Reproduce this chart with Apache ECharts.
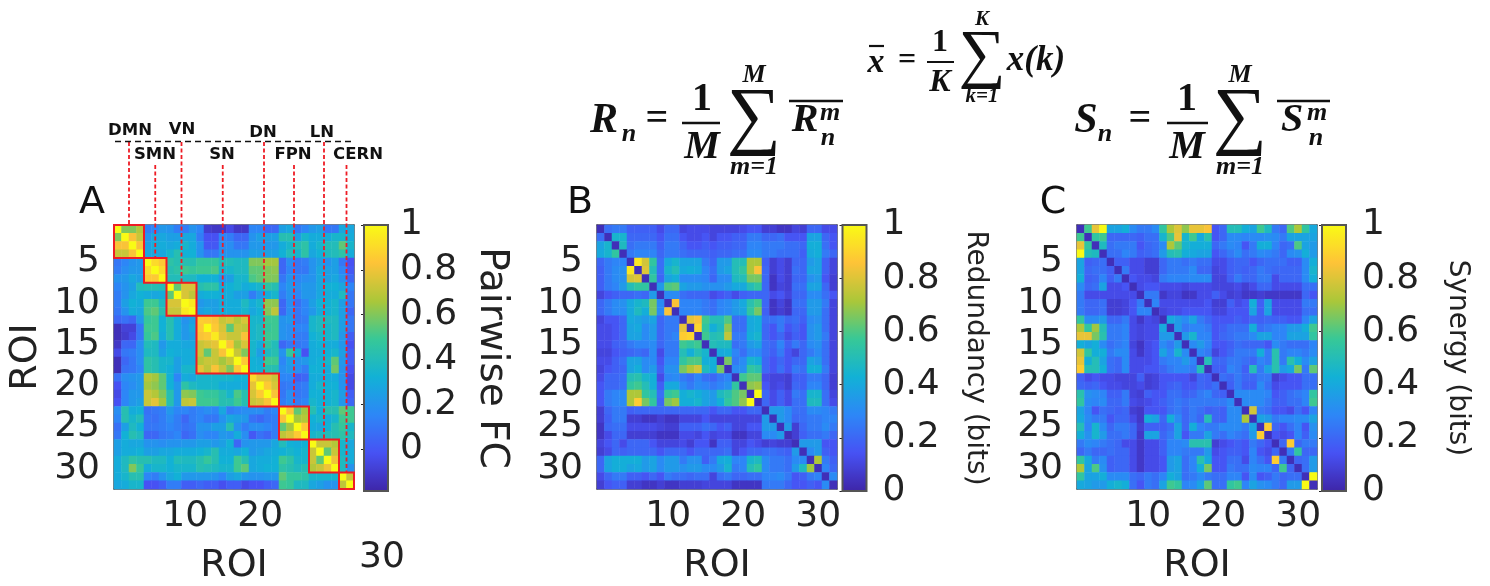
<!DOCTYPE html>
<html><head><meta charset="utf-8">
<style>html,body{margin:0;padding:0;background:#fff}#c{width:1490px;height:586px}</style>
<script src="https://cdn.jsdelivr.net/npm/echarts@6/dist/echarts.min.js"></script>
</head><body><div id="c"></div>
<script>
// ROI numbers and tick labels
const roiLabels = Array.from({length:32},(_, i)=>String(i+1));
const colorbarTicksFC = [0,0.2,0.4,0.6,0.8,1];
const colorbarTicksBits = [0,0.2,0.4,0.6,0.8,1];
// network blocks: label, first ROI, last ROI
const networkNames = ['DMN','SMN','VN','SN','DN','FPN','LN','CERN'];
const networkFirst = [1,5,8,12,19,23,27,31];
const networkLast  = [4,7,11,18,22,26,30,32];
// all matrix values are in hundredths
const pairwiseFC = [
[100,60,60,68, 12,15,22, 20,12,12,20, 15,-10,-12,-12,-5,-12,-12, 15,15,5,5, 25,28,10,15, 22,25,10,10, 28,28],
[60,100,82,72, 20,28,28, 25,25,28,28, 12,-2,-2,15,12,5,5, 20,25,25,25, 42,42,25,35, 30,30,30,35, 35,30],
[82,82,100,82, 25,30,30, 28,30,35,30, 20,0,0,18,18,10,10, 22,22,22,22, 30,35,40,45, 30,35,40,40, 55,35],
[72,72,82,100, 28,28,28, 35,42,32,32, 20,10,10,20,20,20,20, 25,25,25,25, 32,40,35,45, 28,32,38,40, 45,30],
[10,15,20,22, 100,90,85, 45,42,42,42, 48,48,48,40,40,38,38, 60,60,65,65, 5,18,10,12, 20,25,20,25, 10,-2],
[12,18,22,22, 90,100,90, 42,45,50,48, 50,50,52,35,35,38,38, 55,55,60,62, 5,15,10,10, 20,28,25,25, 15,0],
[20,22,28,25, 85,85,100, 40,40,38,38, 32,32,32,22,25,35,35, 52,55,60,60, 10,20,15,18, 20,28,25,28, 20,5],
[15,20,25,40, 42,42,40, 100,55,75,75, 42,45,45,30,32,35,30, 32,35,45,42, 15,22,18,22, 22,28,32,32, 28,15],
[12,20,28,32, 30,28,30, 55,100,75,70, 30,32,32,30,30,25,25, 12,22,30,35, 12,20,15,22, 22,28,30,30, 38,10],
[12,25,32,30, 50,50,38, 75,75,100,95, 22,25,25,30,30,30,38, 30,35,62,62, 5,18,8,15, 25,32,32,35, 25,10],
[10,20,30,28, 52,55,42, 72,72,95,100, 25,28,25,30,30,30,35, 28,32,60,70, 5,18,10,15, 22,30,32,35, 25,5],
[5,8,5,22, 48,50,32, 42,30,20,25, 86,85,82,72,75,68,75, 35,35,50,50, 20,22,10,12, 35,38,38,38, 25,10],
[-15,-8,-8,10, 50,50,32, 42,30,22,28, 85,100,85,75,55,72,70, 35,38,48,50, 20,18,15,15, 35,38,35,38, 25,10],
[-15,-10,-5,10, 48,52,30, 42,30,22,25, 82,85,95,78,72,72,82, 35,38,50,50, 20,18,12,12, 32,35,35,38, 22,2],
[-12,5,5,18, 40,38,22, 30,30,28,28, 72,75,78,100,82,65,75, 35,30,45,40, 5,10,10,12, 30,32,30,30, 22,-2],
[-5,10,12,18, 38,38,25, 32,30,30,30, 72,55,72,82,100,72,60, 35,25,38,42, 20,48,30,-2, 30,30,32,35, 25,2],
[-15,5,10,18, 45,42,35, 35,25,30,30, 68,72,72,65,72,100,85, 32,30,50,50, 15,25,20,22, 30,32,35,55, 22,2],
[-15,8,10,15, 45,42,35, 32,25,35,35, 78,70,82,72,60,85,100, 32,32,42,42, 18,22,18,12, 32,32,30,58, 20,-2],
[8,18,20,22, 68,65,55, 32,15,30,28, 35,35,35,35,35,32,32, 90,78,78,72, 15,15,2,5, 30,30,30,30, 20,-5],
[-2,15,18,22, 65,62,55, 32,22,45,38, 35,35,35,30,30,30,30, 78,100,85,75, 10,12,10,12, 30,35,32,32, 20,-5],
[-5,15,22,22, 72,68,60, 42,22,62,60, 50,48,48,42,35,52,42, 75,85,100,82, 10,18,10,12, 32,32,32,35, 25,2],
[-2,15,22,25, 72,78,65, 42,22,70,72, 50,50,50,42,42,50,42, 72,75,82,100, 12,18,12,15, 35,32,32,35, 22,5],
[18,42,30,32, 8,10,12, 22,15,15,12, 15,18,15,28,12,15,18, 18,18,12,15, 100,82,55,65, 42,32,42,42, 55,50],
[15,42,35,40, 10,8,12, 18,12,5,12, 15,10,10,20,28,25,22, 8,5,10,12, 82,100,65,68, 32,35,30,35, 50,50],
[8,25,38,32, 10,10,12, 15,12,8,10, 20,20,25,25,42,20,12, 18,18,15,12, 55,65,100,85, 30,28,32,42, 48,35],
[10,32,42,38, 5,5,10, 12,15,5,8, 18,15,15,22,20,30,18, 0,8,5,12, 70,75,85,100, 35,38,40,42, 45,38],
[25,30,28,28, 20,20,18, 20,20,22,22, 25,25,22,25,32,5,20, 22,22,22,28, 40,32,30,32, 100,72,72,68, 35,28],
[25,30,30,32, 25,25,28, 28,30,30,30, 32,35,42,30,30,28,32, 22,25,28,30, 32,35,32,35, 72,100,55,72, 35,30],
[30,38,45,42, 42,38,38, 32,40,38,38, 42,48,42,32,32,50,42, 28,30,30,32, 50,45,35,35, 72,55,100,80, 38,30],
[30,38,60,48, 30,35,35, 32,35,35,35, 42,40,38,35,35,50,55, 28,30,32,32, 45,42,38,42, 68,72,80,100, 38,20],
[30,35,42,42, 15,12,20, 28,32,22,22, 22,22,20,15,25,28,22, 20,20,22,22, 55,48,48,45, 35,35,35,35, 100,72],
[28,30,35,35, -2,-2,2, 12,12,2,2, 5,2,2,-3,2,2,-5, -2,-2,2,5, 50,48,38,38, 28,25,20,20, 70,100]
];
const redundancy = [
[3,22,25,25, 18,18,18,18, 12, 20,20, 10,12,12, 12,10, 10,10, 10,12, 15,15, 8,8,5,5, 10,8, 20,20, 12,12],
[22,3,45,45, 20,20,20,20, 15, 22,22, 15,12,12, 15,10, 15,15, 18,18, 25,25, 20,20,22,15, 15,15, 38,38, 20,15],
[38,45,3,48, 22,25,25,25, 18, 25,25, 20,15,15, 18,15, 18,18, 20,20, 28,28, 25,25,25,22, 22,20, 42,42, 22,15],
[40,45,55,3, 25,28,28,28, 20, 25,25, 22,20,20, 20,18, 20,20, 22,22, 30,30, 25,25,22,22, 22,18, 40,42, 25,20],
[20,25,28,28, 3,95,78,55, 22, 40,45, 38,38,38, 25,20, 35,35, 50,50, 72,72, 18,8,12,8, 20,20, 35,38, 18,10],
[18,25,30,32, 95,3,80,50, 22, 45,50, 40,42,40, 28,22, 35,38, 50,55, 72,85, 20,8,12,8, 22,20, 38,38, 18,10],
[18,25,30,32, 78,80,3,55, 20, 38,42, 30,30,30, 28,20, 30,30, 48,50, 65,65, 20,5,12,8, 20,20, 32,35, 15,8],
[18,25,28,35, 50,55,55,3, 35, 60,62, 38,35,35, 32,32, 32,35, 40,40, 50,55, 20,5,10,8, 22,22, 38,38, 20,8],
[10,15,18,20, 20,22,20,35, 3, 30,30, 22,20,20, 20,12, 15,18, 12,18, 20,20, 20,12,15,10, 20,20, 30,30, 22,15],
[20,25,30,32, 40,45,48,65, 30, 3,85, 28,28,28, 25,22, 28,30, 35,40, 52,58, 20,5,10,5, 22,22, 35,35, 25,10],
[20,25,30,30, 40,48,42,65, 30, 85,3, 28,28,28, 25,22, 28,30, 35,38, 55,65, 18,5,8,5, 20,20, 35,35, 22,10],
[10,15,15,20, 40,38,35,38, 20, 25,25, 3,82,85, 58,50, 50,60, 22,22, 40,42, 22,22,25,20, 22,18, 30,32, 22,10],
[12,12,15,20, 38,40,30,35, 20, 25,25, 82,3,90, 55,42, 48,68, 22,22, 40,42, 20,15,25,15, 20,15, 32,35, 22,10],
[12,12,15,20, 38,38,30,35, 20, 25,28, 88,90,3, 58,50, 52,75, 25,25, 42,45, 20,15,20,12, 18,15, 32,35, 25,10],
[12,12,18,20, 25,28,28,30, 20, 25,25, 58,55,58, 3,50, 48,48, 22,25, 35,38, 22,20,28,18, 25,20, 30,32, 22,10],
[10,10,15,18, 20,22,20,30, 12, 25,25, 50,42,50, 45,3, 40,42, 28,22, 30,30, 22,18,25,15, 10,20, 25,30, 22,10],
[12,12,18,22, 38,38,30,30, 15, 28,28, 55,60,60, 42,42, 3,65, 25,30, 45,42, 20,15,20,15, 20,20, 38,35, 22,10],
[10,15,18,20, 38,42,30,35, 18, 32,32, 65,72,78, 48,42, 65,3, 30,32, 55,52, 20,15,22,15, 25,22, 42,42, 25,10],
[12,20,20,22, 50,52,45,42, 12, 28,30, 25,22,28, 22,20, 25,28, 3,58, 62,62, 12,10,10,8, 18,18, 25,25, 20,8],
[15,20,20,22, 55,58,50,42, 18, 40,40, 30,25,30, 28,25, 28,32, 55,3, 68,70, 15,10,12,8, 20,18, 28,28, 20,8],
[15,25,28,30, 72,72,55,50, 22, 55,58, 42,45,42, 38,35, 48,52, 60,65, 3,100, 20,12,18,12, 25,22, 45,45, 22,10],
[15,25,28,30, 72,88,65,55, 20, 65,70, 42,42,45, 38,35, 42,55, 60,68, 100,3, 20,12,18,12, 22,22, 48,48, 22,12],
[8,20,25,25, 18,20,20,20, 20, 20,20, 20,20,20, 20,15, 20,20, 15,15, 20,20, 3,35,35,30, 22,22, 30,30, 28,25],
[8,18,25,25, 8,8,5,5, 8, 5,5, 10,10,10, 15,10, 10,10, 10,10, 10,10, 35,3,35,30, 20,22, 25,25, 28,28],
[5,20,22,22, 12,12,12,12, 10, 8,8, 18,18,18, 22,20, 15,18, 10,10, 15,15, 35,35,3,35, 8,20, 25,25, 30,25],
[5,12,20,20, 8,8,8,8, 5, 5,5, 12,12,10, 15,10, 12,12, 5,5, 10,10, 30,30,35,3, 8,18, 22,22, 25,20],
[10,15,20,12, 20,20,20,15, 10, 10,10, 12,8,15, 15,5, 18,18, 10,10, 15,12, 8,10,8,8, 3,35, 35,35, 15,15],
[8,12,20,18, 20,20,20,20, 15, 20,20, 20,15,20, 20,20, 20,22, 10,15, 20,20, 22,22,20,18, 35,3, 30,35, 18,15],
[20,38,42,42, 42,42,35,38, 30, 35,35, 25,32,32, 18,25, 40,42, 28,28, 45,48, 30,25,25,22, 30,30, 3,72, 25,18],
[20,38,42,42, 38,40,35,38, 30, 35,35, 32,35,35, 30,30, 35,45, 25,28, 50,55, 30,25,25,22, 35,48, 70,3, 28,20],
[12,20,25,25, 18,18,15,20, 15, 25,22, 22,20,22, 22,10, 22,25, 20,20, 22,22, 28,28,30,25, 15,18, 25,28, 3,30],
[8,15,18,18, 8,8,5,5, 8, 5,5, 8,8,8, 10,10, 10,10, 5,5, 5,5, 25,25,25,20, 15,15, 18,15, 30,3]
];
const synergy = [
[3,58,82,100, 38,38,42,30,25,25,30, 55,72,80,68,82,82,85, 15,20, 50,50, 42,38, 58,48, 25,20, 60,72, 55,40],
[58,3,55,58, 20,20,20,20,18,22,22, 45,60,82,45,58,40,52, 15,20, 30,30, 28,30, 30,32, 30,25, 38,38, 38,38],
[82,55,3,48, 22,25,25,25,15,20,22, 30,72,62,45,42,42,42, 20,25, 30,28, 15,25, 42,42, 28,20, 22,60, 38,35],
[100,50,48,3, 22,22,28,25,18,20,22, 35,50,52,42,40,38,38, 15,20, 25,30, 22,25, 30,28, 25,20, 30,32, 42,35],
[38,18,20,22, 3,18,18,12,12,8,8, 20,25,25,22,25,22,22, 12,12, 18,20, 20,15, 20,22, 22,22, 18,18, 30,42],
[38,20,22,22, 18,3,25,12,12,8,8, 20,25,25,25,30,20,20, 10,12, 18,20, 18,20, 25,22, 20,20, 20,20, 30,45],
[42,18,20,28, 18,25,3,15,12,12,10, 25,28,28,28,30,30,30, 10,10, 18,25, 20,20, 25,25, 12,20, 20,20, 30,42],
[30,20,22,38, 12,12,15,3,12,15,15, 12,12,12,10,12,12,12, 10,10, 10,12, 8,12, 20,20, 12,12, 12,12, 22,22],
[25,12,12,12, 12,12,12,12,3,25,25, 6,10,10,5,6,12,12, 18,12, 8,10, 6,6, 8,6, 6,6, 6,6, 20,15],
[25,20,20,22, 8,8,10,15,25,3,28, 12,12,12,12,12,12,15, 8,8, 18,12, 15,42, 18,38, 12,12, 12,12, 25,25],
[25,20,20,22, 8,8,10,15,28,28,3, 10,12,12,15,15,15,15, 10,10, 15,15, 15,38, 18,38, 12,12, 12,12, 22,22],
[55,30,30,35, 20,20,25,12,6,12,10, 3,40,35,30,38,25,20, 15,15, 15,18, 15,20, 18,20, 18,18, 15,15, 28,38],
[72,55,70,50, 25,25,28,12,10,12,12, 40,3,35,25,28,28,25, 15,18, 22,22, 22,42, 22,25, 28,28, 35,35, 42,58],
[82,82,65,52, 25,25,28,12,10,12,12, 35,35,3,35,45,28,28, 15,20, 22,25, 25,30, 38,38, 28,28, 38,38, 38,55],
[42,38,42,30, 22,25,28,10,5,12,15, 30,25,35,3,30,35,28, 15,15, 18,22, 20,20, 20,15, 30,25, 22,22, 22,28],
[78,55,42,42, 25,30,30,12,6,12,15, 38,28,45,30,3,28,25, 10,15, 20,25, 25,25, 42,25, 52,25, 28,28, 25,30],
[82,42,50,38, 22,20,30,12,12,12,15, 25,28,28,35,28,3,50, 20,20, 25,25, 22,20, 28,25, 52,25, 52,42, 30,38],
[88,50,50,42, 22,20,30,12,12,15,15, 20,25,28,28,25,50,3, 18,18, 28,25, 18,50, 25,38, 52,35, 40,65, 25,62],
[18,12,15,12, 12,10,10,10,18,8,10, 15,15,15,15,10,20,18, 3,22, 20,25, 20,20, 25,25, 8,12, 15,15, 22,22],
[20,18,20,15, 12,12,10,10,12,8,10, 15,18,20,15,15,20,18, 22,3, 18,25, 18,18, 30,22, 12,15, 15,15, 22,22],
[52,32,30,28, 18,18,25,10,8,18,15, 15,22,22,18,20,25,28, 20,18, 3,30, 30,30, 30,28, 15,18, 22,25, 28,55],
[55,30,28,30, 20,20,25,12,10,12,15, 18,22,25,22,25,25,25, 25,25, 30,3, 30,30, 30,25, 18,18, 22,22, 28,58],
[38,28,15,22, 20,18,20,8,6,15,15, 15,22,25,20,25,22,18, 20,18, 30,30, 3,78, 25,22, 15,15, 12,22, 15,28],
[40,30,25,25, 15,20,20,12,6,42,38, 20,42,30,20,25,20,50, 20,18, 30,30, 72,3, 38,35, 25,28, 28,30, 30,38],
[50,28,45,30, 20,25,25,20,8,18,18, 18,22,38,20,42,28,25, 25,30, 30,30, 25,38, 3,88, 20,15, 22,28, 15,32],
[42,32,45,35, 22,22,25,20,6,38,38, 20,25,38,15,25,25,38, 25,22, 28,25, 22,35, 88,3, 15,12, 15,28, 18,30],
[25,30,28,25, 22,20,12,12,6,12,12, 18,28,28,30,52,52,52, 8,12, 15,18, 15,25, 20,15, 3,20, 88,20, 25,25],
[20,25,20,20, 22,20,20,12,6,12,12, 18,28,28,25,25,25,35, 12,15, 18,18, 15,28, 15,12, 20,3, 25,55, 20,20],
[55,40,25,30, 18,20,20,12,6,12,12, 15,35,38,22,28,52,40, 15,15, 22,22, 12,28, 22,15, 88,25, 3,20, 22,35],
[72,38,60,32, 18,20,20,12,6,12,12, 15,35,38,22,28,42,65, 15,15, 25,22, 22,30, 28,28, 20,58, 20,3, 22,35],
[55,38,38,42, 30,30,30,22,20,25,22, 28,42,38,22,25,30,25, 22,22, 28,28, 15,30, 15,18, 25,20, 22,22, 3,100],
[40,38,35,35, 42,45,42,22,15,25,22, 38,58,55,28,30,38,62, 22,22, 55,58, 28,38, 32,30, 25,20, 35,35, 100,3]
];
const colorbarMinFC = -0.1875, colorbarMaxFC = 1, colorbarMinBits = 0, colorbarMaxBits = 1;

const parula = ['#3e26a8','#4752f4','#2d87f7','#12b1d6','#37c897','#abc739','#fec338','#f9fb15'];
const FONT = 'DejaVu Sans', LINE = '#555';
const panels = [
 {m:pairwiseFC, left:114, cb:364, min:colorbarMinFC, max:colorbarMaxFC, ticks:colorbarTicksFC, name:'Pairwise FC', nameSize:39, nameGap:84, cbMargin:12, xTick:[10,20]},
 {m:redundancy, left:597, cb:842.5, min:colorbarMinBits, max:colorbarMaxBits, ticks:colorbarTicksBits, name:'Redundancy (bits)', nameSize:28, nameGap:95, cbMargin:16, xTick:[10,20,30]},
 {m:synergy, left:1077, cb:1322, min:colorbarMinBits, max:colorbarMaxBits, ticks:colorbarTicksBits, name:'Synergy (bits)', nameSize:28, nameGap:97, cbMargin:16, xTick:[10,20,30]}
];
const TOP=225, H=266, W=240, CBW=24, TICK_SIZE=36, NAME_SIZE=38;
const grid=[], xAxis=[], yAxis=[], series=[], visualMap=[], graphic=[];
const every = n => (i)=> (i+1)%n===0;
panels.forEach((p,k)=>{
  const g=k*2;
  grid.push({left:p.left,top:TOP,width:W,height:H});
  grid.push({left:p.cb,top:TOP,width:CBW,height:H});
  const line={show:true,lineStyle:{color:LINE,width:1.5}};
  const tick={show:true,inside:true,length:3,alignWithLabel:true,lineStyle:{color:'#222',width:1.5}};
  const xTicksFn=(i,v)=>p.xTick.includes(+v);
  const xb=xAxis.length;
  xAxis.push({gridIndex:g,type:'category',data:roiLabels,position:'bottom',axisLine:line,
    axisTick:{...tick,interval:every(10)},
    axisLabel:{interval:xTicksFn,fontSize:TICK_SIZE,fontFamily:FONT,color:'#222',margin:10},
    name:'ROI',nameLocation:'middle',nameGap:58,nameTextStyle:{fontSize:NAME_SIZE,fontFamily:FONT,color:'#222'},splitLine:{show:false}});
  xAxis.push({gridIndex:g,type:'category',data:roiLabels,position:'top',axisLine:line,
    axisTick:{...tick,interval:every(10)},axisLabel:{show:false},splitLine:{show:false}});
  const yb=yAxis.length;
  yAxis.push({gridIndex:g,type:'category',data:roiLabels,inverse:true,position:'left',axisLine:line,
    axisTick:{...tick,interval:every(5)},
    axisLabel:{interval:every(5),fontSize:TICK_SIZE,fontFamily:FONT,color:'#222',margin:14},
    ...(k===0?{name:'ROI',nameLocation:'middle',nameGap:69,nameRotate:90,nameTextStyle:{fontSize:NAME_SIZE,fontFamily:FONT,color:'#222'}}:{}),splitLine:{show:false}});
  yAxis.push({gridIndex:g,type:'category',data:roiLabels,inverse:true,position:'right',axisLine:line,
    axisTick:{...tick,interval:every(5)},axisLabel:{show:false},splitLine:{show:false}});
  // colorbar axes
  xAxis.push({gridIndex:g+1,type:'value',show:false,min:0,max:1});
  yAxis.push({gridIndex:g+1,type:'value',position:'right',min:p.min,max:p.max,
    axisLine:line,splitLine:{show:false},
    axisTick:{show:true,inside:true,length:3,customValues:p.ticks,lineStyle:{color:'#222'}},
    axisLabel:{customValues:p.ticks,fontSize:TICK_SIZE,fontFamily:FONT,color:'#222',margin:p.cbMargin},
    name:p.name,nameLocation:'middle',nameRotate:-90,nameGap:p.nameGap,nameTextStyle:{fontSize:p.nameSize,fontFamily:FONT,color:'#222'}});
  const data=[];
  p.m.forEach((row,r)=>row.forEach((v,c)=>data.push([c,r,v/100])));
  series.push({type:'heatmap',xAxisIndex:xb,yAxisIndex:yb,data,silent:true,progressive:0,animation:false,z:2});
  visualMap.push({type:'continuous',seriesIndex:series.length-1,min:p.min,max:p.max,calculable:false,
    left:p.cb,top:TOP,itemWidth:CBW,itemHeight:H,padding:0,text:['',''],hoverLink:false,inRange:{color:parula},z:1});
  graphic.push({type:'rect',shape:{x:p.cb,y:TOP,width:CBW,height:H},style:{fill:'none',stroke:LINE,lineWidth:2},z:20});
  if(k===0){
    const netData=networkNames.map((n,i)=>[networkFirst[i]-1,networkLast[i]-1,i]);
    series.push({type:'custom',xAxisIndex:xb,yAxisIndex:yb,data:netData,clip:false,silent:true,z:5,animation:false,
      encode:{x:0,y:1},
      renderItem(params,api){
        const a=api.value(0), b=api.value(1), idx=api.value(2);
        const c0=api.coord([a,a]), c1=api.coord([b,b]), s=api.size([1,1]);
        const x0=c0[0]-s[0]/2, y0=c0[1]-s[1]/2, x1=c1[0]+s[0]/2, y1=c1[1]+s[1]/2;
        const mid=(x0+x1)/2, start=idx%2===0?142:165;
        return {type:'group',children:[
          {type:'rect',shape:{x:x0,y:y0,width:x1-x0,height:y1-y0},style:{fill:'none',stroke:'#ee1c25',lineWidth:2}},
          {type:'line',shape:{x1:mid,y1:start,x2:mid,y2:y0},style:{stroke:'#ee1c25',lineWidth:1.8,lineDash:[4,2.5]}}
        ]};
      }});
  }
});
function t(text,x,y,font,extra){graphic.push({type:'text',x,y,z:30,silent:true,style:Object.assign({text,x:0,y:0,font,fill:'#111',align:'center',verticalAlign:'middle'},extra||{})});}
function ln(x1,y1,x2,y2,w,c,dash){graphic.push({type:'line',z:30,silent:true,shape:{x1,y1,x2,y2},style:{stroke:c||'#111',lineWidth:w||2,lineDash:dash||null}});}
// panel letters and stray tick label
t('A',92,203,`38px ${FONT}`); t('B',580,203,`38px ${FONT}`); t('C',1053,203,`38px ${FONT}`);
t('30',382,558,`36px ${FONT}`,{fill:'#222'});
// network labels
const labelX=[130,155,182,222,263,293,322,358];
const labelY=[131,155,130,155,133,155,133,155];
networkNames.forEach((n,i)=>t(n,labelX[i],labelY[i],`bold 16.5px ${FONT}`));
ln(115,141.5,352,141.5,1.5,'#111',[6,4]);
// formulas
const S='Liberation Serif', it=s=>`italic bold ${s}px "${S}"`, up=s=>`bold ${s}px "${S}"`, sig=s=>`${s}px "${S}"`;
function bigSum(cx,cy,size,top,bottom,ty,by,ss){
  t('∑',cx,cy,sig(size)); t(top,cx,ty,it(ss)); t(bottom,cx,by,it(ss));
}
// R_n
t('R',604,121,it(42)); t('n',629,134,it(26)); t('=',657,120,up(40));
t('1',702,100,up(40)); ln(682,123,720,123,2.4); t('M',702,148,it(40));
bigSum(754,120,76,'M','m=1',75,167,26);
ln(789,101,843,101,2.6); t('R',805,121,it(40)); t('m',830,113,it(26)); t('n',828,138,it(26));
// x bar
t('x',876,63,it(34)); ln(869,46,884,46,2.2); t('=',907,61,up(32));
t('1',940,43,up(32)); ln(927,62,954,62,2); t('K',940,83,it(32));
bigSum(982,58,66,'K','k=1',20,97,21);
t('x(k)',1036,61,it(35));
// S_n
t('S',1086,121,it(42)); t('n',1105,134,it(26)); t('=',1140,120,up(40));
t('1',1187,100,up(40)); ln(1167,123,1208,123,2.4); t('M',1187,148,it(40));
bigSum(1240,120,76,'M','m=1',75,167,26);
ln(1277,101,1330,101,2.6); t('S',1292,121,it(40)); t('m',1317,113,it(26)); t('n',1316,138,it(26));

const chart=echarts.init(document.getElementById('c'),null,{renderer:'canvas'});
chart.setOption({animation:false,backgroundColor:'#fff',grid,xAxis,yAxis,series,visualMap,graphic,tooltip:{show:false}});
</script></body></html>
